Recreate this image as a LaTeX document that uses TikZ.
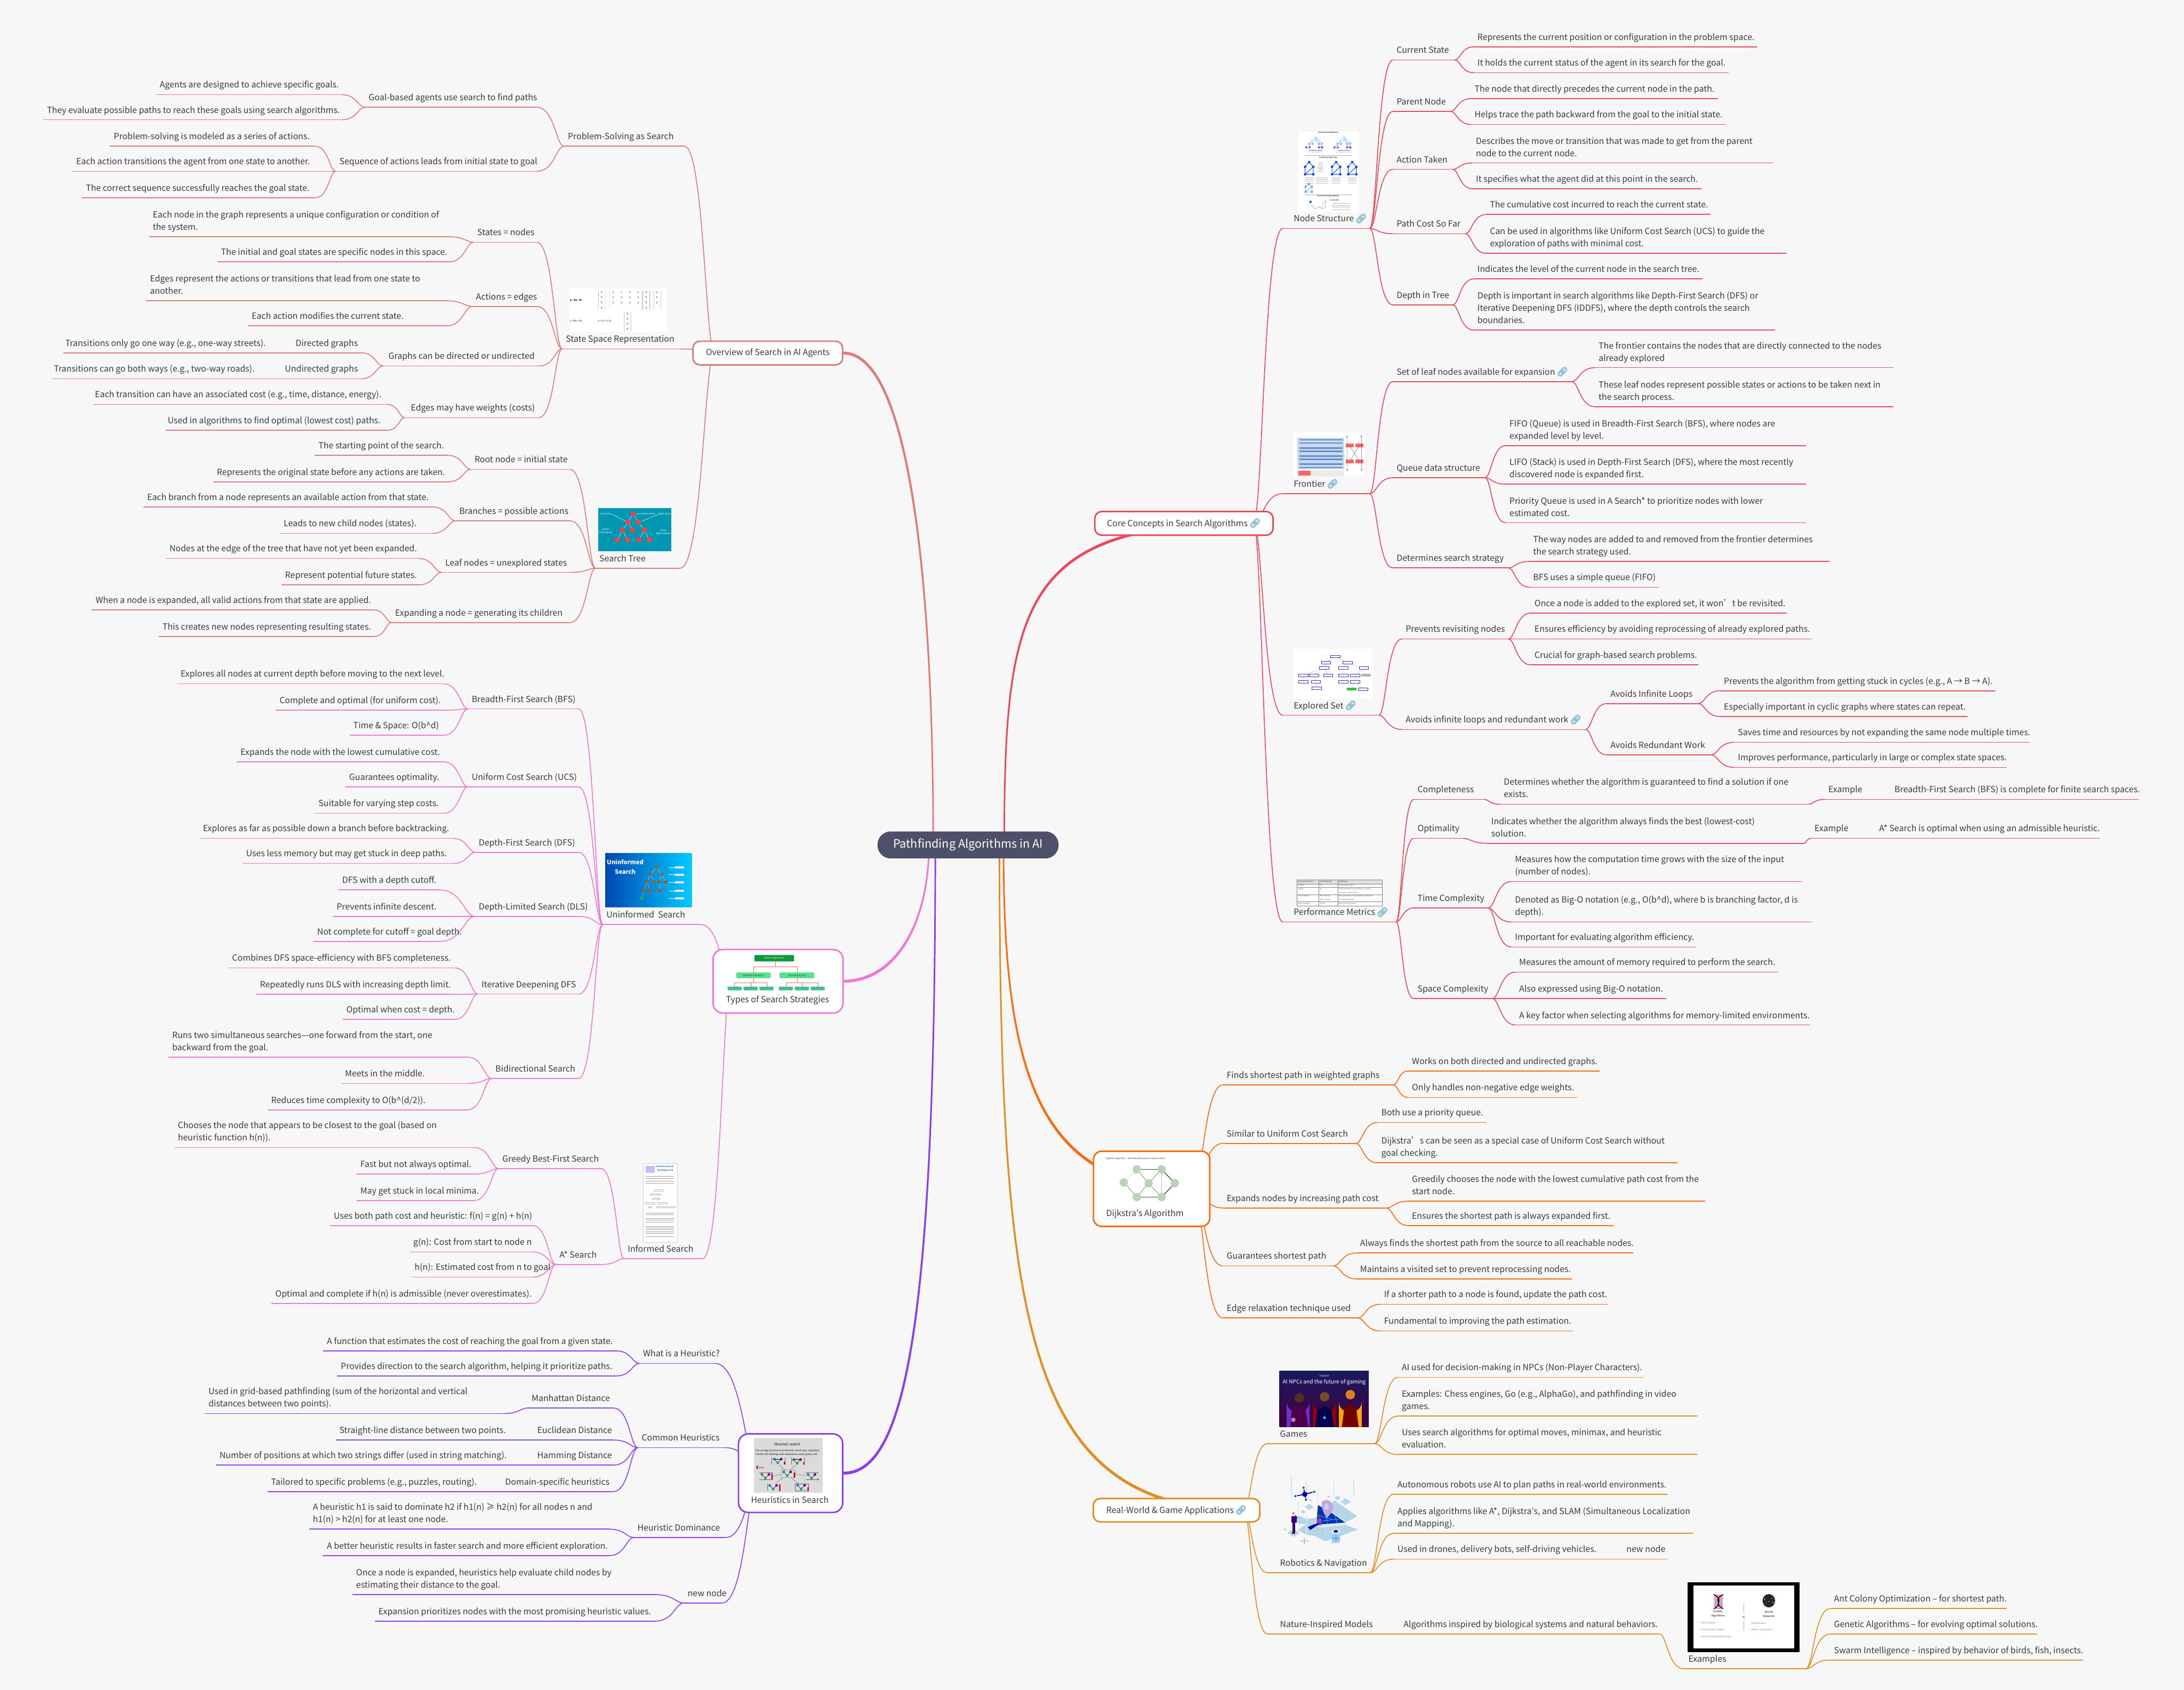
\documentclass[tikz,border=0pt]{standalone}
\usepackage{fontspec}
\setmainfont[Ligatures=TeXOff]{Noto Sans CJK SC}
\newfontfamily\emojifont[FakeBold=1.5]{Noto Emoji}
\newfontfamily\serifimg{Liberation Serif}
\usetikzlibrary{calc}
\pgfdeclarelayer{bg}\pgfsetlayers{bg,main}
\definecolor{pagebg}{HTML}{F7F7F7}
\definecolor{txt}{HTML}{3A3A3A}
\definecolor{cRed}{HTML}{E8495B}
\definecolor{cSalmon}{HTML}{E07B7B}
\definecolor{cPink}{HTML}{EE78D2}
\definecolor{cOrange}{HTML}{FF6A10}
\definecolor{cAmber}{HTML}{E28E20}
\definecolor{cPurple}{HTML}{8A3FF0}
\definecolor{cCentre}{HTML}{4C5069}
\definecolor{linkblue}{HTML}{6FAECB}
\definecolor{mapblue}{HTML}{B5D5E8}
\definecolor{stTeal}{HTML}{0097B2}
\definecolor{tyTop}{HTML}{0A9A3C}
\definecolor{tyMid}{HTML}{5CE08F}
\definecolor{tyLow}{HTML}{3FBF8F}
\definecolor{frPanel}{HTML}{C9D9EE}
\definecolor{frRow}{HTML}{5B8BD0}
\tikzset{
  leaf/.style={inner sep=0pt,text=txt,font=\fontsize{6.1}{8.8}\selectfont},
  uline/.style={line width=.62pt},
  conn/.style={line width=.62pt},
  box/.style={fill=white,line width=1.1pt,inner sep=0pt},
  lab/.style={inner sep=0pt,text=txt,font=\fontsize{6.1}{8.8}\selectfont},
  tiny/.style={inner sep=0pt,font=\fontsize{1.7}{2.1}\selectfont},
  micro/.style={inner sep=0pt,text=black!80,font=\fontsize{1.15}{1.5}\selectfont},
}
\newcommand\lk{\,{\fontsize{6.6}{8}\emojifont\textcolor{linkblue}{🔗}}}
\def\cc{black}
\newcommand\lf[6][2.5]{%
  \node[leaf,anchor=south west] (#2) at (#3,#5) {\makebox[\dimexpr #4pt-#3pt\relax][l]{\hspace{#1pt}\begin{tabular}[b]{@{}l@{}}#6\\[2pt]\end{tabular}}};
  \draw[uline,\cc] (#2.south west) -- (#2.south east);}
\newcommand\cnR[3]{\foreach \ch in {#3}{\draw[conn,#1] let \p1=(#2),\p2=(\ch.south west) in (\p1) .. controls ({\x1+0.3*(\x2-\x1)},\y1) and ({\x1+0.35*(\x2-\x1)},\y2) .. (\p2);}}
\newcommand\cnL[3]{\foreach \ch in {#3}{\draw[conn,#1] let \p1=(#2),\p2=(\ch.south east) in (\p1) .. controls ({\x1+0.3*(\x2-\x1)},\y1) and ({\x1+0.35*(\x2-\x1)},\y2) .. (\p2);}}
% tapered main branch: colour, side sign, start, c1, c2, end
\newcommand\bigb[6]{\fill[#1] ($(#6)+(0,-1.05)$) .. controls ($(#5)+(#2*1.05,-1.05)$) and ($(#4)+(#2*.55,0)$) .. ($(#3)+(#2*.55,0)$) -- ($(#3)+(-#2*.55,0)$) .. controls ($(#4)+(-#2*.55,0)$) and ($(#5)+(-#2*1.05,1.05)$) .. ($(#6)+(0,1.05)$) -- cycle;}
\begin{document}
\begin{tikzpicture}[x=1pt,y=-1pt]
\useasboundingbox (0,0) rectangle (1568,1213.4);
\begin{pgfonlayer}{bg}\fill[pagebg] (0,0) rectangle (1568,1213.4);\end{pgfonlayer}

% ---------- centre and main boxes
\node[fill=cCentre,rounded corners=9.5pt,minimum width=130pt,minimum height=19.4pt,inner sep=0pt,text=white,font=\fontsize{8.3}{11}\selectfont] (root) at (695,606.7) {Pathfinding Algorithms in AI};
\coordinate (rootC) at (721,606);\coordinate (rootD) at (720.5,606);\coordinate (rootR) at (717.5,606);
\coordinate (rootO) at (670,606);\coordinate (rootT) at (667,606);\coordinate (rootH) at (671.5,606);

\node[box,draw=cRed,rounded corners=5pt,minimum width=128pt,minimum height=17pt,text=txt,font=\fontsize{6.1}{8.8}\selectfont] (core) at (850,375.8) {Core Concepts in Search Algorithms\lk};
\node[box,draw=cOrange,rounded corners=6pt,minimum width=83.5pt,minimum height=54pt] (dij) at (826.8,853.6) {};
\node[lab,anchor=west] (dijL) at (794,871.6) {Dijkstra's Algorithm};
\node[box,draw=cAmber,rounded corners=5pt,minimum width=119.5pt,minimum height=16.8pt,text=txt,font=\fontsize{6.1}{8.8}\selectfont] (real) at (844.7,1084.4) {Real-World \& Game Applications\lk};
\node[box,draw=cSalmon,rounded corners=5pt,minimum width=107.5pt,minimum height=17pt,text=txt,font=\fontsize{6.1}{8.8}\selectfont] (over) at (551.2,253.5) {Overview of Search in AI Agents};
\node[box,draw=cPink,rounded corners=7pt,minimum width=93.3pt,minimum height=45.6pt] (types) at (558.6,704.6) {};
\node[lab,anchor=west] (typesL) at (521,718) {Types of Search Strategies};
\node[box,draw=cPurple,rounded corners=7pt,minimum width=74.8pt,minimum height=56.4pt] (heur) at (567.6,1057.8) {};
\node[lab,anchor=west] (heurL) at (539,1077) {Heuristics in Search};

\coordinate (coreO) at (900,375.5);\coordinate (dijO) at (857,853.5);\coordinate (realO) at (893,1084);
\coordinate (overO) at (513,253.5);\coordinate (typesO) at (525,704);\coordinate (heurO) at (545,1058);

% ---------- CORE CONCEPTS
\def\cc{cRed}
\lf[7.6]{ns}{921}{983}{164}{Node Structure\lk}
\lf{cur}{1000}{1044}{43}{Current State}
\lf{cura}{1058}{1261}{33.6}{Represents the current position or configuration in the problem space.}
\lf{curb}{1058}{1240.6}{52.2}{It holds the current status of the agent in its search for the goal.}
\lf{par}{1000}{1041}{80}{Parent Node}
\lf{para}{1056}{1233}{70.8}{The node that directly precedes the current node in the path.}
\lf{parb}{1056}{1238.6}{89.4}{Helps trace the path backward from the goal to the initial state.}
\lf{act}{1000}{1042.6}{121.6}{Action Taken}
\lf{acta}{1057}{1272.6}{117}{Describes the move or transition that was made to get from the parent\\node to the current node.}
\lf{actb}{1057}{1221}{135.5}{It specifies what the agent did at this point in the search.}
\lf{cost}{1000}{1051.7}{167.8}{Path Cost So Far}
\lf{costa}{1067}{1227.6}{154}{The cumulative cost incurred to reach the current state.}
\lf{costb}{1067}{1282}{181.9}{Can be used in algorithms like Uniform Cost Search (UCS) to guide the\\exploration of paths with minimal cost.}
\lf{dep}{1000}{1042.6}{218.9}{Depth in Tree}
\lf{depa}{1058}{1222}{200.3}{Indicates the level of the current node in the search tree.}
\lf{depb}{1058}{1274}{237}{Depth is important in search algorithms like Depth-First Search (DFS) or\\Iterative Deepening DFS (IDDFS), where the depth controls the search\\boundaries.}

\lf[7.6]{fr}{921}{983}{354.5}{Frontier\lk}
\lf{setl}{1000}{1128}{274}{Set of leaf nodes available for expansion\lk}
\lf{setla}{1145}{1359}{264}{The frontier contains the nodes that are directly connected to the nodes\\already explored}
\lf{setlb}{1145}{1359}{292}{These leaf nodes represent possible states or actions to be taken next in\\the search process.}
\lf{que}{1000}{1065.8}{343}{Queue data structure}
\lf{quea}{1081}{1296}{320}{FIFO (Queue) is used in Breadth-First Search (BFS), where nodes are\\expanded level by level.}
\lf{queb}{1081}{1296}{347.7}{LIFO (Stack) is used in Depth-First Search (DFS), where the most recently\\discovered node is expanded first.}
\lf{quec}{1081}{1296}{375.4}{Priority Queue is used in A Search* to prioritize nodes with lower\\estimated cost.}
\lf{det}{1000}{1082.5}{407.8}{Determines search strategy}
\lf{deta}{1098}{1313}{403.2}{The way nodes are added to and removed from the frontier determines\\the search strategy used.}
\lf{detb}{1098}{1190.6}{421.6}{BFS uses a simple queue (FIFO)}

\lf[7.6]{exs}{921}{989.6}{513.6}{Explored Set\lk}
\lf{prv}{1006.5}{1082.5}{458.8}{Prevents revisiting nodes}
\lf{prva}{1099}{1282.5}{440.2}{Once a node is added to the explored set, it won’t be revisited.}
\lf{prvb}{1099}{1300}{458.8}{Ensures efficiency by avoiding reprocessing of already explored paths.}
\lf{prvc}{1099}{1219}{477.4}{Crucial for graph-based search problems.}
\lf{avd}{1006.5}{1138}{523.8}{Avoids infinite loops and redundant work\lk}
\lf{avl}{1153.5}{1218.8}{505.2}{Avoids Infinite Loops}
\lf{avla}{1235}{1432}{496}{Prevents the algorithm from getting stuck in cycles (e.g., A → B → A).}
\lf{avlb}{1235}{1412}{514.5}{Especially important in cyclic graphs where states can repeat.}
\lf{avr}{1153.5}{1228}{542}{Avoids Redundant Work}
\lf{avra}{1245}{1457}{533}{Saves time and resources by not expanding the same node multiple times.}
\lf{avrb}{1245}{1440}{551}{Improves performance, particularly in large or complex state spaces.}

\lf[7.6]{pm}{921}{1002}{662}{Performance Metrics\lk}
\lf{cmp}{1015}{1065}{574}{Completeness}
\lf{cmpa}{1077}{1298}{577.5}{Determines whether the algorithm is guaranteed to find a solution if one\\exists.}
\lf{cmpb}{1310}{1345}{574}{Example}
\lf{cmpc}{1357.5}{1535}{574}{Breadth-First Search (BFS) is complete for finite search spaces.}
\lf{opt}{1015}{1050}{602}{Optimality}
\lf{opta}{1068}{1295}{605.5}{Indicates whether the algorithm always finds the best (lowest-cost)\\solution.}
\lf{optb}{1300}{1337}{602}{Example}
\lf{optc}{1346.5}{1507}{602}{A* Search is optimal when using an admissible heuristic.}
\lf{tim}{1015}{1068}{652}{Time Complexity}
\lf{tima}{1085}{1293}{633}{Measures how the computation time grows with the size of the input\\(number of nodes).}
\lf{timb}{1085}{1300}{662}{Denoted as Big-O notation (e.g., O(b\textasciicircum d), where b is branching factor, d is\\depth).}
\lf{timc}{1085}{1217}{680}{Important for evaluating algorithm efficiency.}
\lf{spc}{1015}{1071}{717}{Space Complexity}
\lf{spca}{1088}{1276}{698}{Measures the amount of memory required to perform the search.}
\lf{spcb}{1088}{1196}{717}{Also expressed using Big-O notation.}
\lf{spcc}{1088}{1299}{736}{A key factor when selecting algorithms for memory-limited environments.}

% ---------- DIJKSTRA
\def\cc{cOrange}
\lf{dfi}{878}{1000}{779}{Finds shortest path in weighted graphs}
\lf{dfia}{1011}{1148}{769}{Works on both directed and undirected graphs.}
\lf{dfib}{1011}{1132}{788}{Only handles non-negative edge weights.}
\lf{dsi}{878}{973}{821}{Similar to Uniform Cost Search}
\lf{dsia}{989}{1067}{806}{Both use a priority queue.}
\lf{dsib}{989}{1204}{835}{Dijkstra’s can be seen as a special case of Uniform Cost Search without\\goal checking.}
\lf{dex}{878}{995}{867.4}{Expands nodes by increasing path cost}
\lf{dexa}{1011}{1224}{862.5}{Greedily chooses the node with the lowest cumulative path cost from the\\start node.}
\lf{dexb}{1011}{1158}{880}{Ensures the shortest path is always expanded first.}
\lf{dgu}{878}{957}{909}{Guarantees shortest path}
\lf{dgua}{973.8}{1172}{899.7}{Always finds the shortest path from the source to all reachable nodes.}
\lf{dgub}{973.8}{1128}{918.3}{Maintains a visited set to prevent reprocessing nodes.}
\lf{ded}{878}{974.5}{946.4}{Edge relaxation technique used}
\lf{deda}{991}{1154}{936.5}{If a shorter path to a node is found, update the path cost.}
\lf{dedb}{991}{1129}{955.7}{Fundamental to improving the path estimation.}

% ---------- REAL WORLD
\def\cc{cAmber}
\lf[8.8]{gam}{910}{986.5}{1036.6}{Games}
\lf{gama}{1003.7}{1179.6}{989}{AI used for decision-making in NPCs (Non-Player Characters).}
\lf{gamb}{1003.7}{1218}{1016.8}{Examples: Chess engines, Go (e.g., AlphaGo), and pathfinding in video\\games.}
\lf{gamc}{1003.7}{1218}{1044.4}{Uses search algorithms for optimal moves, minimax, and heuristic\\evaluation.}
\lf[8.8]{rob}{910}{983.3}{1129.3}{Robotics \& Navigation}
\lf{roba}{1000.6}{1196.6}{1073}{Autonomous robots use AI to plan paths in real-world environments.}
\lf{robb}{1000.6}{1215}{1101}{Applies algorithms like A*, Dijkstra's, and SLAM (Simultaneous Localization\\and Mapping).}
\lf{robc}{1000.6}{1145}{1119.5}{Used in drones, delivery bots, self-driving vehicles.}
\lf{robd}{1165}{1196.6}{1119.5}{new node}
\lf[8.8]{nat}{910}{987.6}{1173.3}{Nature-Inspired Models}
\lf{nata}{1005}{1191}{1173.3}{Algorithms inspired by biological systems and natural behaviors.}
\lf[3]{nex}{1209}{1296}{1198.3}{Examples}
\lf{nexa}{1314}{1440}{1155}{Ant Colony Optimization – for shortest path.}
\lf{nexb}{1314}{1462}{1173.4}{Genetic Algorithms – for evolving optimal solutions.}
\lf{nexc}{1314}{1495}{1192}{Swarm Intelligence – inspired by behavior of birds, fish, insects.}

% ---------- OVERVIEW
\def\cc{cSalmon}
\lf{ps}{405}{491}{105}{Problem-Solving as Search}
\lf{pga}{262}{385}{77}{Goal-based agents use search to find paths}
\lf{pgaa}{112}{245}{68}{Agents are designed to achieve specific goals.}
\lf{pgab}{31}{245}{86}{They evaluate possible paths to reach these goals using search algorithms.}
\lf{psq}{241}{385}{123}{Sequence of actions leads from initial state to goal}
\lf{psqa}{79}{226}{105}{Problem-solving is modeled as a series of actions.}
\lf{psqb}{52}{226}{123}{Each action transitions the agent from one state to another.}
\lf{psqc}{59}{226}{142}{The correct sequence successfully reaches the goal state.}
\lf{sp}{403.6}{487.9}{250.5}{State Space Representation}
\lf{sta}{340}{385}{174}{States = nodes}
\lf{staa}{107}{322}{170}{Each node in the graph represents a unique configuration or condition of\\the system.}
\lf{stab}{156}{322}{188}{The initial and goal states are specific nodes in this space.}
\lf{ace}{339}{385}{220}{Actions = edges}
\lf{acea}{105}{320}{216}{Edges represent the actions or transitions that lead from one state to\\another.}
\lf{aceb}{178}{320}{234}{Each action modifies the current state.}
\lf[3.7]{gdu}{275}{386.4}{262.8}{Graphs can be directed or undirected}
\lf[12]{gdd}{200}{258.6}{253.3}{Directed graphs}
\lf[1.2]{gdda}{45.5}{200}{253.3}{Transitions only go one way (e.g., one-way streets).}
\lf[9.4]{gdn}{195}{258.6}{272}{Undirected graphs}
\lf[1]{gdna}{37.5}{195}{272}{Transitions can go both ways (e.g., two-way roads).}
\lf[4.3]{wei}{290.5}{386.4}{299.9}{Edges may have weights (costs)}
\lf[1.2]{weia}{66.8}{277.5}{290.4}{Each transition can have an associated cost (e.g., time, distance, energy).}
\lf[1.2]{weib}{119}{277.5}{309}{Used in algorithms to find optimal (lowest cost) paths.}
\lf{st}{427.6}{487.9}{408}{Search Tree}
\lf{roo}{338}{408.8}{337}{Root node = initial state}
\lf{rooa}{226}{321}{327}{The starting point of the search.}
\lf{roob}{153}{321}{346}{Represents the original state before any actions are taken.}
\lf{bra}{327}{408.8}{374}{Branches = possible actions}
\lf{braa}{103}{310}{364}{Each branch from a node represents an available action from that state.}
\lf{brab}{201}{310}{383}{Leads to new child nodes (states).}
\lf{lea}{317}{408.8}{411}{Leaf nodes = unexplored states}
\lf{leaa}{119}{300}{401}{Nodes at the edge of the tree that have not yet been expanded.}
\lf{leab}{202}{300}{420}{Represent potential future states.}
\lf{epd}{281}{408.8}{447}{Expanding a node = generating its children}
\lf{epda}{66}{268}{438}{When a node is expanded, all valid actions from that state are applied.}
\lf{epdb}{114}{268}{457}{This creates new nodes representing resulting states.}

% ---------- TYPES
\def\cc{cPink}
\lf{uni}{432.7}{502.7}{663.9}{Uninformed\ \ Search}
\lf{bfs}{336}{415}{509}{Breadth-First Search (BFS)}
\lf{bfsa}{127}{318}{491}{Explores all nodes at current depth before moving to the next level.}
\lf{bfsb}{198}{318}{510}{Complete and optimal (for uniform cost).}
\lf{bfsc}{251}{318}{528}{Time \& Space: O(b\textasciicircum d)}
\lf{ucs}{336}{415}{565}{Uniform Cost Search (UCS)}
\lf{ucsa}{170}{318}{547}{Expands the node with the lowest cumulative cost.}
\lf{ucsb}{248}{318}{565}{Guarantees optimality.}
\lf{ucsc}{226}{318}{584}{Suitable for varying step costs.}
\lf{dfs}{341}{415}{612}{Depth-First Search (DFS)}
\lf{dfsa}{143}{325}{602}{Explores as far as possible down a branch before backtracking.}
\lf{dfsb}{174}{325}{620}{Uses less memory but may get stuck in deep paths.}
\lf{dls}{341}{415}{658}{Depth-Limited Search (DLS)}
\lf{dlsa}{243}{315}{639}{DFS with a depth cutoff.}
\lf{dlsb}{239}{315}{658}{Prevents infinite descent.}
\lf{dlsc}{225}{315}{676}{Not complete for cutoff = goal depth.}
\lf{ids}{343}{415}{713.8}{Iterative Deepening DFS}
\lf{idsa}{164}{326}{695}{Combines DFS space-efficiency with BFS completeness.}
\lf{idsb}{184}{326}{714}{Repeatedly runs DLS with increasing depth limit.}
\lf{idsc}{246}{326}{732}{Optimal when cost = depth.}
\lf{bid}{353}{415}{774.4}{Bidirectional Search}
\lf{bida}{121}{335}{759}{Runs two simultaneous searches—one forward from the start, one\\backward from the goal.}
\lf{bidb}{245}{335}{778}{Meets in the middle.}
\lf{bidc}{192}{335}{797}{Reduces time complexity to O(b\textasciicircum(d/2)).}
\lf{inf}{448}{504}{903.8}{Informed Search}
\lf{gre}{358}{431}{839}{Greedy Best-First Search}
\lf{grea}{125}{340}{824}{Chooses the node that appears to be closest to the goal (based on\\heuristic function h(n)).}
\lf{greb}{256}{340}{843}{Fast but not always optimal.}
\lf{grec}{256}{340}{862}{May get stuck in local minima.}
\lf{ast}{399}{431}{908}{A* Search}
\lf{asta}{237}{382}{880}{Uses both path cost and heuristic: f(n) = g(n) + h(n)}
\lf{astb}{294}{382}{899}{g(n): Cost from start to node n}
\lf{astc}{295}{382}{917}{h(n): Estimated cost from n to goal}
\lf{astd}{195}{382}{936}{Optimal and complete if h(n) is admissible (never overestimates).}

% ---------- HEURISTICS
\def\cc{cPurple}
\lf{wha}{459}{513}{979}{What is a Heuristic?}
\lf{whaa}{232}{442}{970}{A function that estimates the cost of reaching the goal from a given state.}
\lf{whab}{242}{442}{988}{Provides direction to the search algorithm, helping it prioritize paths.}
\lf{com}{458}{520.7}{1039.5}{Common Heuristics}
\lf{man}{379}{440}{1011}{Manhattan Distance}
\lf{mana}{147}{361}{1015}{Used in grid-based pathfinding (sum of the horizontal and vertical\\distances between two points).}
\lf{euc}{383}{440}{1034}{Euclidean Distance}
\lf{euca}{241}{365}{1034}{Straight-line distance between two points.}
\lf{ham}{383}{440}{1052}{Hamming Distance}
\lf{hama}{155}{365}{1052}{Number of positions at which two strings differ (used in string matching).}
\lf{dom}{360}{440}{1071}{Domain-specific heuristics}
\lf{doma}{192}{343}{1071}{Tailored to specific problems (e.g., puzzles, routing).}
\lf{hdo}{455}{520.7}{1104}{Heuristic Dominance}
\lf{hdoa}{222}{437}{1098}{A heuristic h1 is said to dominate h2 if h1(n) ≥ h2(n) for all nodes n and\\h1(n) > h2(n) for at least one node.}
\lf{hdob}{232}{437}{1117}{A better heuristic results in faster search and more efficient exploration.}
\lf{nwn}{491}{518}{1151}{new node}
\lf{nwna}{253}{470}{1145}{Once a node is expanded, heuristics help evaluate child nodes by\\estimating their distance to the goal.}
\lf{nwnb}{269}{470}{1164}{Expansion prioritizes nodes with the most promising heuristic values.}

% ---------- IMAGES (scopes use crop coordinates)
% Node Structure
\begin{scope}[shift={(924.4,91.1)},x=.11246pt,y=-.11246pt]
\fill[white] (68,30) rectangle (452,543);
\node[micro,font=\fontsize{1.15}{1.5}\selectfont\bfseries] (nst) at (260,37) {Graph Search Algorithms};
\foreach \ox/\tl/\tb/\ti in {180/Breadth-First Search/Visits nearest neighbors first/a,360/Depth-First Search/Goes deep before backtracking/b}{
 \draw[blue!40!gray!70,line width=.15pt] (\ox,65)--(\ox-22,88)--(\ox-40,108)--(\ox-61,131) (\ox-40,108)--(\ox-40,131) (\ox-22,88)--(\ox-20,108) (\ox,65)--(\ox,88) (\ox,65)--(\ox+20,108)--(\ox+20,131) (\ox+20,108)--(\ox+40,131) (\ox,65)--(\ox+40,108);
 \foreach \ax/\ay/\cl in {0/65/blue!25!cyan!25,-22/88/blue!25!cyan!30,0/88/blue!25!cyan!30,-40/108/blue!50!cyan!50,-20/108/blue!50!cyan!50,20/108/blue!50!cyan!50,40/108/blue!50!cyan!50,-61/131/blue!60!gray!70,-40/131/blue!60!gray!70,20/131/blue!50!gray!80,40/131/blue!50!gray!90}{\fill[\cl] (\ox+\ax,\ay) circle (.85pt);}
 \node[micro,font=\fontsize{.9}{1.2}\selectfont\bfseries] (nsa\ti) at (\ox,152) {\tl};
 \node[micro,text=gray,font=\fontsize{.8}{1}\selectfont] (nsb\ti) at (\ox,162) {\tb};}
\draw[gray!60,line width=.15pt] (108,181)--(413,181) (108,433)--(413,433);
\node[micro,font=\fontsize{1.1}{1.4}\selectfont\bfseries] (nsp) at (260,195) {Pathfinding Algorithms};
\foreach \ox in {138,310,413}{
 \draw[blue!65!cyan,line width=.4pt] (\ox-26,255)--(\ox,225)--(\ox+26,255)--(\ox+26,303)--(\ox-26,303)--cycle (\ox-26,303)--(\ox+26,255);
 \foreach \ax/\ay in {0/225,-26/255,26/255,-26/303,26/303}{\fill[blue!75!cyan] (\ox+\ax,\ay) circle (.9pt);}
 \foreach \ay in {325,335,345,358}{\draw[gray!55,line width=.17pt] (\ox-28,\ay)--(\ox+28,\ay);}}
\draw[blue!60!cyan!60,line width=.3pt] (115,382)--(135,365)--(155,382)--(155,415)--(115,415)--cycle (115,415)--(155,382);
\foreach \ax/\ay in {135/365,115/382,155/382,115/415,155/415}{\fill[blue!50!cyan!70] (\ax,\ay) circle (.8pt);}
\foreach \ay in {228,238,248,258,268,278,288}{\draw[gray!55,line width=.17pt] (195,\ay)--(225,\ay);}
\foreach \ay in {325,335,345,358}{\draw[gray!55,line width=.17pt] (182,\ay)--(258,\ay);}
\node[micro,font=\fontsize{1}{1.3}\selectfont\bfseries] (nsr) at (260,442) {Random Pathfinding Algorithm};
\draw[gray!80,line width=.2pt] (135,478)--(150,490)--(165,515)--(180,525)--(200,510)--(215,520)--(225,490)--(245,470)--(240,515)--(215,525);
\fill[blue!70!cyan] (147,478) circle (.8pt);
\node[micro,font=\fontsize{.95}{1.2}\selectfont\bfseries] (nsw) at (300,468) {Random Walk};
\foreach \ay in {488,500,512,527}{\draw[gray!55,line width=.17pt] (285,\ay)--(400,\ay);}
\end{scope}
% Frontier
\begin{scope}[shift={(894.1,296.9)},x=.2581pt,y=-.1549pt]
\fill[white] (133,87) rectangle (331,293);
\fill[frPanel] (145,112) rectangle (275,258);
\foreach \ay in {122,137,160,175,197,212,235,250}{\fill[frRow] (150,\ay-3) rectangle (270,\ay+3);}
\fill[gray!15] (145,262) rectangle (275,293);
\fill[red!60] (148,266) rectangle (182,288);
\foreach \ox/\oy in {290/148,317/148,290/222,317/222}{\fill[red!60] (\ox-11,\oy-8) rectangle (\ox+11,\oy+8);}
\draw[black!70,line width=.15pt] (290,148)--(317,222) (317,148)--(290,222) (283,100)--(283,262) (323,100)--(323,262);
\fill[gray!50] (280,104) rectangle (286,112) (320,104) rectangle (326,112) (280,258) rectangle (286,266) (320,258) rectangle (326,266);
\end{scope}
% Explored Set
\begin{scope}[shift={(894.1,296.9)},x=.2581pt,y=-.1549pt]
\fill[white] (133,1091) rectangle (354,1322);
\draw[blue!40!gray!60,line width=.12pt] (250,1126)--(224,1155) (250,1126)--(284,1155) (224,1155)--(219,1180) (284,1155)--(272,1180) (284,1155)--(329,1180) (219,1180)--(161,1214) (219,1180)--(191,1214) (219,1180)--(230,1214) (272,1180)--(272,1214) (329,1180)--(305,1214) (329,1180)--(335,1214) (272,1214)--(272,1244) (305,1214)--(305,1244) (161,1214)--(161,1244) (191,1214)--(196,1244) (196,1244)--(198,1272) (305,1244)--(296,1277) (305,1244)--(327,1277);
\foreach \ax/\ay in {250/1126,224/1155,284/1155,219/1180,272/1180,329/1180,161/1214,191/1214,230/1214,272/1214,305/1214,161/1244,196/1244,198/1272,272/1244,305/1244,327/1277}{
 \draw[blue!60!gray,fill=white,line width=.15pt] (\ax-13,\ay-6) rectangle (\ax+13,\ay+6);}
\fill[gray!60] (323,1208) rectangle (349,1220);
\fill[green!70!black!80] (283,1271) rectangle (309,1283);
\end{scope}
% Performance Metrics
\begin{scope}[shift={(924.4,624.2)},x=.11246pt,y=-.11246pt]
\fill[white] (60,68) rectangle (603,232);
\fill[gray!25] (60,68) rectangle (603,95);
\draw[gray,line width=.18pt] (60,68) rectangle (603,232) (200,68)--(200,232) (320,68)--(320,232) (60,95)--(603,95) (60,113)--(603,113) (60,163)--(603,163) (60,207)--(603,207);
\tikzset{mt/.style={micro,anchor=west,font=\fontsize{1.15}{1.4}\selectfont\serifimg}}
\node[mt,font=\fontsize{1.15}{1.4}\selectfont\serifimg\bfseries] (pm1) at (66,79) {Performance Measure};
\node[mt,font=\fontsize{1.15}{1.4}\selectfont\serifimg\bfseries] (pm2) at (206,79) {Greedy Best First};
\node[mt,font=\fontsize{1.15}{1.4}\selectfont\serifimg\bfseries] (pm3) at (326,79) {Justification};
\node[mt] (pm4) at (66,103) {Complete};
\node[mt] (pm5) at (206,103) {No};
\node[mt] (pm6) at (326,103) {Can get stuck in loops.};
\node[mt] (pm7) at (66,125) {Optimal};
\node[mt] (pm8) at (206,125) {No};
\node[mt] (pm9) at (326,125) {Usually Path Selected by Algorithm is Longest as};
\node[mt] (pm10) at (326,149) {compared to optimal Solution.};
\node[mt] (pm11) at (66,172) {Time Complexity};
\node[mt] (pm12) at (206,172) {Best: O(d) and};
\node[mt] (pm13) at (206,195) {Worst: O(b\textasciicircum m)};
\node[mt] (pm14) at (326,172) {But a good heuristic can give dramatic improvement.};
\node[mt] (pm15) at (326,195) {(m = Maximum Depth)};
\node[mt] (pm16) at (66,218) {Space Complexity};
\node[mt] (pm17) at (206,218) {O(b\textasciicircum m)};
\node[mt] (pm18) at (326,218) {Keeps all nodes in memory.};
\end{scope}
% State Space
\begin{scope}[shift={(388,188.9)},x=.1721pt,y=-.1506pt]
\fill[white] (120,121) rectangle (527,327);
\node[tiny,anchor=west,text=black] (ssa) at (122,177) {\textbf{q} = \textbf{Aq} + \textbf{B}u};
\node[tiny,anchor=west,text=black] (ssb) at (122,276) {y = \textbf{C}q + Du};
\node[tiny,anchor=west,text=black] (ssc) at (238,276) {y = [1\ \ 0\ \ 0\ \ 0]};
\foreach \ay [count=\ai] in {140,164,188,214}{\node[tiny,text=black] (ssl\ai) at (255,\ay) {q};\node[tiny,text=black] (ssr\ai) at (441,\ay) {q};}
\foreach \ay/\va/\vb/\vc/\vd [count=\ai] in {140/0/1/0/0,164/0/0/1/0,188/0/0/0/1}{
 \node[tiny,text=black] (sm\ai a) at (304,\ay) {\va};\node[tiny,text=black] (sm\ai b) at (339,\ay) {\vb};\node[tiny,text=black] (sm\ai c) at (373,\ay) {\vc};\node[tiny,text=black] (sm\ai d) at (408,\ay) {\vd};\node[tiny,text=black] (sm\ai e) at (486,\ay) {0};}
\foreach \ay [count=\ai] in {243,268,291,315}{\node[tiny,text=black] (ssq\ai) at (363,\ay) {q};}
\draw[gray,line width=.15pt] (243,131)--(241,222) (270,131)--(270,222) (288,131)--(288,222) (425,131)--(425,222) (428,131)--(428,222) (456,131)--(456,222) (473,131)--(473,222) (502,131)--(502,222) (350,232)--(350,325) (377,232)--(377,325);
\end{scope}
% Search Tree
\begin{scope}[shift={(388,188.9)},x=.1721pt,y=-.1506pt]
\fill[stTeal] (241,1167) rectangle (545,1373);
\draw[white,line width=.2pt] (387,1196)--(365,1235)--(342,1273)--(321,1319) (342,1273)--(363,1319) (365,1235)--(384,1273) (387,1196)--(408,1235)--(433,1273)--(412,1319) (433,1273)--(454,1319) (295,1195)--(355,1230) (495,1197)--(420,1232) (430,1195)--(400,1195);
\foreach \ax/\ay in {387/1196,365/1235,408/1235,342/1273,384/1273,433/1273,321/1319,363/1319,412/1319,454/1319}{\fill[red!75!white] (\ax,\ay) circle (1.9pt);}
\node[tiny,text=white] (stl) at (272,1195) {Left Node};
\node[tiny,text=white] (str) at (455,1195) {Root Node};
\node[tiny,text=white] (stq) at (518,1196) {Right Node};
\node[tiny,text=white,align=center] (ste) at (272,1277) {Entire\\Left Subtree};
\node[tiny,text=white,align=center] (stf) at (513,1283) {Entire\\Right Subtree};
\end{scope}
% Uninformed
\begin{scope}[shift={(404.9,600.5)},x=.1506pt,y=-.1937pt]
\shade[left color=blue!60!cyan!70!black,right color=cyan!80!blue] (197,63) rectangle (609,263);
\node[inner sep=0pt,text=white,font=\fontsize{4.3}{5}\selectfont\bfseries] (unt) at (292,96) {Uninformed};
\node[inner sep=0pt,text=white,font=\fontsize{4.3}{5}\selectfont\bfseries] (uns) at (292,131) {Search};
\draw[white,line width=.12pt] (441,115)--(413,141)--(396,169)--(381,201)--(370,230) (441,115)--(467,141)--(453,169)--(459,201) (413,141)--(429,169) (467,141)--(484,169) (396,169)--(410,201);
\foreach \ax/\ay in {441/115,413/141,467/141,396/169,429/169,453/169,484/169,381/201,410/201,459/201}{\fill[orange!70!black] (\ax,\ay) circle (1.25pt);}
\fill[green!60!black!80] (370,230) circle (1.25pt);
\foreach \ay in {116,142,171,202,230}{\fill[blue!10] (530,\ay-4) rectangle (572,\ay+4);\draw[white,line width=.1pt] (500,\ay)--(530,\ay);}
\end{scope}
% Types
\begin{scope}[shift={(404.9,600.5)},x=.1506pt,y=-.1937pt]
\draw[red!60,line width=.15pt] (1007,464)--(1007,483) (904,505)--(904,483)--(1111,483)--(1111,505) (904,526)--(904,542) (813,557)--(813,542)--(966,542)--(966,557) (890,542)--(890,557) (1111,526)--(1111,542) (1058,557)--(1058,542)--(1211,542)--(1211,557) (1134,542)--(1134,557);
\fill[tyTop,rounded corners=.6pt] (908,440) rectangle (1097,464);
\node[tiny,text=white] (tyt) at (1003,452) {Search Algorithms};
\foreach \xa/\xb/\tn/\ti in {821/985/Uninformed Search/a,1028/1193/Informed Search/b}{
 \fill[tyMid,rounded corners=.6pt] (\xa,505) rectangle (\xb,526);
 \node[tiny,text=green!30!black] (ty\ti) at ({(\xa+\xb)/2},515.5) {\tn};}
\foreach \xa in {780,856,932,1024,1100,1176}{\fill[tyLow,rounded corners=.5pt] (\xa,557) rectangle (\xa+67,571);}
\end{scope}
% Informed
\begin{scope}[shift={(404.9,600.5)},x=.1506pt,y=-.1937pt]
\draw[blue!20,fill=white,line width=.3pt] (377,1213) rectangle (540,1505);
\node[tiny,text=cyan!60!blue!70!black,font=\fontsize{1.5}{1.9}\selectfont\bfseries] (inft) at (481,1224) {Informed Search};
\node[tiny,text=cyan!60!blue!70!black,font=\fontsize{1.5}{1.9}\selectfont\bfseries] (infs) at (483,1238) {Strategies in AI};
\fill[blue!25] (390,1222) rectangle (432,1248);
\foreach \ay in {1260,1268,1278,1286,1396,1403,1416,1423,1431,1445,1452,1458,1465,1471,1484}{\draw[gray!75,line width=.22pt] (390,\ay)--(525,\ay);}
\draw[gray!55,line width=.15pt] (430,1310) rectangle (475,1315) (410,1325) rectangle (462,1330) (420,1340) rectangle (455,1345) (388,1357) rectangle (430,1362) (447,1357) rectangle (492,1362) (440,1372) rectangle (530,1376) (400,1372) rectangle (418,1376);
\end{scope}
% Dijkstra
\begin{scope}[shift={(759.1,809.7)},x=.1506pt,y=-.1125pt]
\node[inner sep=0pt,text=black!80,font=\fontsize{1.55}{2}\selectfont] (dijt) at (373,199) {Dijkstra's algorithm – Shortest path between nodes A and G};
\draw[black!70,line width=.2pt] (317,350)--(379,443) (379,266)--(435,355) (435,355)--(379,443) (435,355)--(497,266) (435,355)--(497,443);
\draw[gray!50,line width=.15pt] (317,350)--(379,266);
\draw[black!75,line width=.6pt] (379,266)--(497,266) (379,443)--(497,443);
\draw[gray!60,line width=.4pt] (497,266)--(497,443);
\draw[black,line width=.35pt] (497,266)--(560,355)--(497,443);
\foreach \ax/\ay in {379/266,497/266,317/350,435/355,560/355,379/443,497/443}{\fill[green!25!gray!45] (\ax,\ay) circle (3pt);}
\end{scope}
% Heuristics
\begin{scope}[shift={(506.1,1005.4)},x=.1125pt,y=-.1125pt]
\fill[gray!28] (312,240) rectangle (753,590);
\node[inner sep=0pt,text=black,font=\fontsize{2.9}{3.5}\selectfont\serifimg] (het) at (525,281) {Heuristic search};
\node[inner sep=0pt,text=black,font=\fontsize{1.95}{2.4}\selectfont\serifimg] (hea) at (527,324) {Use scoring function to do heuristic search (any algorithm)};
\node[inner sep=0pt,text=black,font=\fontsize{1.95}{2.4}\selectfont\serifimg] (heb) at (520,346) {Greedy hill-climbing with randomness works pretty well};
\draw[black!70,line width=.15pt] (475,412)--(510,447) (578,415)--(545,447) (435,485)--(487,472) (575,470)--(642,483) (450,532)--(497,495) (550,495)--(597,532) (487,447) rectangle (575,493);
\foreach \ox/\oy in {443/376,566/379,503/458,364/474,658/474,413/544,592/543}{
 \draw[black,line width=.2pt] (\ox,\oy)--(\ox+22,\oy+24)--(\ox+44,\oy);
 \fill[cyan!60!blue!75!black] (\ox,\oy) circle (.95pt);
 \fill[violet!80!blue] (\ox+44,\oy) circle (.95pt);
 \fill[green!55!cyan!70!black] (\ox+22,\oy+24) circle (.95pt);}
\draw[black,line width=.3pt] (443,376)--(487,376);\draw[black,line width=.3pt] (566,379)--(610,379);
\draw[gray!80!black,line width=.15pt] (427,365)--(427,410) (512,365)--(512,410) (550,365)--(550,412) (635,365)--(635,412) (348,463)--(432,463) (348,508)--(432,508) (642,463)--(725,463) (642,508)--(725,508) (397,578)--(397,533) (577,578) rectangle (662,532);
\fill[red!80!black] (504,392) rectangle (512,410) (627,396) rectangle (635,412) (424,468) rectangle (432,508) (567,462) rectangle (575,493) (474,536) rectangle (482,580) (654,555) rectangle (662,578) (718,501) rectangle (725,510) (330,418) rectangle (338,440);
\node[inner sep=0pt,text=black,font=\fontsize{1.8}{2.2}\selectfont\serifimg] (hes) at (360,431) {score};
\end{scope}
% Games
\begin{scope}[shift={(894.1,961.5)},x=.2152pt,y=-.1506pt]
\shade[top color=blue!30!black!90,bottom color=violet!50!black] (114,152) rectangle (412,419);
\fill[blue!50!violet!80] (138,419)--(138,300) arc[start angle=180,end angle=0,x radius=38,y radius=50] --(214,419)--cycle;
\fill[red!60!black] (226,419)--(226,300) arc[start angle=180,end angle=0,x radius=38,y radius=50] --(302,419)--cycle;
\fill[orange!70!yellow] (312,419)--(312,300) arc[start angle=180,end angle=0,x radius=38,y radius=50] --(388,419)--cycle;
\fill[violet!60!black] (150,419)--(155,330)--(178,310)--(200,330)--(210,419)--cycle;
\fill[black!60!brown] (180,280) circle (3.4pt);
\fill[black!70!blue] (232,419)--(240,340)--(264,320)--(288,340)--(296,419)--cycle;
\fill[brown!60!black] (264,275) circle (3.4pt);
\fill[red!45!black] (322,419)--(330,330)--(350,310)--(370,330)--(378,419)--cycle;
\fill[orange!50!brown] (350,265) circle (3.4pt);
\fill[cyan!80] (264,375) circle (1pt);
\fill[violet!50!white] (160,385) circle (1.6pt);
\node[inner sep=0pt,text=white,font=\fontsize{3.9}{4.5}\selectfont] (gamt) at (263,206) {AI NPCs and the future of gaming};
\node[inner sep=0pt,text=white!80,font=\fontsize{1.8}{2.2}\selectfont] (gami) at (263,174) {Inworld};
\end{scope}
% Robotics
\begin{scope}[shift={(910.9,1049.3)},x=.11246pt,y=-.11246pt]
\fill[mapblue] (185,438)--(240,400)--(195,400)--(165,372)--(195,345)--(240,370)--(305,360)--(420,250)--(565,350)--(470,400)--(570,435)--(450,480)--(360,510)--(290,475)--(240,470)--cycle;
\foreach \ax/\ay/\rx/\ry in {258/292/28/20,220/323/17/12,490/258/33/22,440/234/20/14,382/226/10/8,266/248/10/8,104/435/9/8,158/457/38/26}{\fill[mapblue] (\ax-\rx,\ay)--(\ax,\ay-\ry)--(\ax+\rx,\ay)--(\ax,\ay+\ry)--cycle;}
\fill[blue!10!gray!20] (300,408)--(500,396)--(492,408)--(335,425)--cycle;
\draw[white,fill=blue!70!cyan!70!black,line width=.5pt,line join=round] (312,275)--(300,408)--(497,393)--(400,325)--cycle;
\draw[cyan!40!white,line width=.2pt] (305,340)--(400,370) (360,300)--(375,405) (420,345)--(440,398) (310,385)--(470,365);
\fill[blue!30!violet!35!white] (338,262) .. controls (355,235) and (400,240) .. (413,290) .. controls (413,320) and (385,345) .. (370,362) .. controls (350,330) and (335,300) .. (338,262) -- cycle;
\fill[white!80!blue] (368,290) ellipse (1.5pt and 2.4pt);
\foreach \ax/\ay/\bx/\by in {145/90/145/230,240/130/240/210,415/100/415/230,543/120/543/215,313/180/313/270,186/258/186/340,480/225/480/300,240/350/240/470,365/400/365/490}{\draw[cyan!25,line width=.5pt] (\ax,\ay)--(\bx,\by);}
\draw[cyan!60!blue!50,densely dotted,line width=.12pt] (500,235) ellipse (5.5pt and 2pt) (530,420) ellipse (5pt and 6pt);
\draw[blue!70!black,line width=.7pt] (170,222)--(230,210)--(290,195) (222,168)--(230,210)--(238,245);
\fill[blue!70!black] (230,210) circle (1.9pt);
\foreach \ax/\ay in {170/222,290/195,222/168,238/245}{\fill[white] (\ax,\ay) circle (1.3pt);\fill[blue!60!cyan!80!black] (\ax,\ay) circle (.8pt);}
\fill[blue!35!violet!70!black] (143,350) rectangle (178,392);
\fill[blue!35!violet!70!black] (150,392) rectangle (170,455);
\draw[violet!70!blue,line width=.6pt] (170,345)--(182,362);
\fill[orange!40!white] (158,340) circle (.85pt);
\fill[cyan!60!blue!70!black] (157,331) circle (.75pt);
\fill[black!80] (147,453) rectangle (170,461);
\fill[violet!60!blue!70] (305,365) rectangle (335,408);
\fill[blue!60!black] (330,395)--(290,402)--(250,420)--(265,438)--(305,412)--cycle;
\fill[black!40!orange] (320,350) circle (.95pt);
\fill[gray!30] (398,510) rectangle (455,525);
\fill[blue!40!cyan!45] (403,460) rectangle (453,515);
\draw[blue!60!black!60,line width=.15pt] (428,460)--(428,515) (403,490)--(453,490);
\fill[white!90!blue] (428,448) ellipse (3.2pt and 1.9pt);
\fill[blue!30!black] (428,447) ellipse (1.6pt and 1pt);
\draw[gray!70,line width=.25pt] (198,508)--(256,508) (226,490)--(226,526);
\foreach \ax/\ay in {205/508,250/508,226/494,226/522}{\fill[gray!60] (\ax,\ay) circle (.5pt);}
\end{scope}
% Examples
\begin{scope}[shift={(1180.8,1113.4)},x=.2152pt,y=-.1125pt]
\fill[black] (143,201) rectangle (517,648);
\fill[white] (162,224) rectangle (499,625);
\fill[violet!20!pink] (232,282) rectangle (260,372);
\fill[cyan!50!blue!40] (232,318) rectangle (260,330);
\draw[black,line width=.55pt] (230,280) .. controls (270,320) and (225,330) .. (262,372);
\draw[black,line width=.55pt] (262,280) .. controls (222,320) and (267,330) .. (230,372);
\fill[black!85] (414,320) ellipse (4.5pt and 4.8pt);
\foreach \ax/\ay/\cl in {400/310/yellow!70!green,425/305/cyan,415/325/red!60,405/335/green!60!black,428/330/yellow!80!green}{\fill[\cl] (\ax,\ay) circle (.5pt);}
\draw[gray!60,line width=.15pt] (330,335)--(330,400) (330,448)--(330,512);
\node[tiny,text=black,align=center,font=\fontsize{1.9}{3}\selectfont] (exg) at (245,404) {Genetic\\Algorithms};
\node[tiny,text=black,align=center,font=\fontsize{1.9}{3}\selectfont] (exn) at (414,404) {Neural\\Networks};
\node[tiny,text=black,font=\fontsize{1.7}{2.1}\selectfont] (exv) at (330,425) {VS};
\node[tiny,text=gray,anchor=west] (ex1) at (178,462) {• Optimization};
\node[tiny,text=gray,anchor=west] (ex2) at (178,507) {• Classification (GBML)};
\node[tiny,text=gray,anchor=west] (ex3) at (178,552) {• Human Comparable Design};
\node[tiny,text=gray,anchor=west] (ex4) at (345,462) {• Classification};
\node[tiny,text=gray,anchor=west] (ex5) at (345,507) {• Pattern recognition};
\end{scope}

% ---------- CONNECTORS
\begin{pgfonlayer}{bg}
\bigb{cRed}{-1}{rootC}{721,430}{735,375.5}{coreO}
\bigb{cOrange}{1}{rootD}{720,770}{745,853.5}{dijO}
\bigb{cAmber}{1}{rootR}{718,950}{735,1084}{realO}
\bigb{cSalmon}{1}{rootO}{670,400}{650,253.5}{over.east}
\bigb{cPink}{-1}{rootT}{667,660}{645,704}{types.east}
\bigb{cPurple}{-1}{rootH}{671.5,950}{650,1058}{heur.east}

\cnR{cRed}{coreO}{ns,fr,exs,pm}
\cnR{cRed}{ns.south east}{cur,par,act,cost,dep}
\cnR{cRed}{cur.south east}{cura,curb}
\cnR{cRed}{par.south east}{para,parb}
\cnR{cRed}{act.south east}{acta,actb}
\cnR{cRed}{cost.south east}{costa,costb}
\cnR{cRed}{dep.south east}{depa,depb}
\cnR{cRed}{fr.south east}{setl,que,det}
\cnR{cRed}{setl.south east}{setla,setlb}
\cnR{cRed}{que.south east}{quea,queb,quec}
\cnR{cRed}{det.south east}{deta,detb}
\cnR{cRed}{exs.south east}{prv,avd}
\cnR{cRed}{prv.south east}{prva,prvb,prvc}
\cnR{cRed}{avd.south east}{avl,avr}
\cnR{cRed}{avl.south east}{avla,avlb}
\cnR{cRed}{avr.south east}{avra,avrb}
\cnR{cRed}{pm.south east}{cmp,opt,tim,spc}
\cnR{cRed}{cmp.south east}{cmpa}
\cnR{cRed}{cmpa.south east}{cmpb}
\cnR{cRed}{cmpb.south east}{cmpc}
\cnR{cRed}{opt.south east}{opta}
\cnR{cRed}{opta.south east}{optb}
\cnR{cRed}{optb.south east}{optc}
\cnR{cRed}{tim.south east}{tima,timb,timc}
\cnR{cRed}{spc.south east}{spca,spcb,spcc}

\cnR{cOrange}{dijO}{dfi,dsi,dex,dgu,ded}
\cnR{cOrange}{dfi.south east}{dfia,dfib}
\cnR{cOrange}{dsi.south east}{dsia,dsib}
\cnR{cOrange}{dex.south east}{dexa,dexb}
\cnR{cOrange}{dgu.south east}{dgua,dgub}
\cnR{cOrange}{ded.south east}{deda,dedb}

\cnR{cAmber}{realO}{gam,rob,nat}
\cnR{cAmber}{gam.south east}{gama,gamb,gamc}
\cnR{cAmber}{rob.south east}{roba,robb,robc}
\cnR{cAmber}{robc.south east}{robd}
\cnR{cAmber}{nat.south east}{nata}
\cnR{cAmber}{nata.south east}{nex}
\cnR{cAmber}{nex.south east}{nexa,nexb,nexc}

\cnL{cSalmon}{overO}{ps,sp,st}
\cnL{cSalmon}{ps.south west}{pga,psq}
\cnL{cSalmon}{pga.south west}{pgaa,pgab}
\cnL{cSalmon}{psq.south west}{psqa,psqb,psqc}
\cnL{cSalmon}{sp.south west}{sta,ace,gdu,wei}
\cnL{cSalmon}{sta.south west}{staa,stab}
\cnL{cSalmon}{ace.south west}{acea,aceb}
\cnL{cSalmon}{gdu.south west}{gdd,gdn}
\cnL{cSalmon}{gdd.south west}{gdda}
\cnL{cSalmon}{gdn.south west}{gdna}
\cnL{cSalmon}{wei.south west}{weia,weib}
\cnL{cSalmon}{st.south west}{roo,bra,lea,epd}
\cnL{cSalmon}{roo.south west}{rooa,roob}
\cnL{cSalmon}{bra.south west}{braa,brab}
\cnL{cSalmon}{lea.south west}{leaa,leab}
\cnL{cSalmon}{epd.south west}{epda,epdb}

\cnL{cPink}{typesO}{uni,inf}
\cnL{cPink}{uni.south west}{bfs,ucs,dfs,dls,ids,bid}
\cnL{cPink}{bfs.south west}{bfsa,bfsb,bfsc}
\cnL{cPink}{ucs.south west}{ucsa,ucsb,ucsc}
\cnL{cPink}{dfs.south west}{dfsa,dfsb}
\cnL{cPink}{dls.south west}{dlsa,dlsb,dlsc}
\cnL{cPink}{ids.south west}{idsa,idsb,idsc}
\cnL{cPink}{bid.south west}{bida,bidb,bidc}
\cnL{cPink}{inf.south west}{gre,ast}
\cnL{cPink}{gre.south west}{grea,greb,grec}
\cnL{cPink}{ast.south west}{asta,astb,astc,astd}

\cnL{cPurple}{heurO}{wha,com,hdo,nwn}
\cnL{cPurple}{wha.south west}{whaa,whab}
\cnL{cPurple}{com.south west}{man,euc,ham,dom}
\cnL{cPurple}{man.south west}{mana}
\cnL{cPurple}{euc.south west}{euca}
\cnL{cPurple}{ham.south west}{hama}
\cnL{cPurple}{dom.south west}{doma}
\cnL{cPurple}{hdo.south west}{hdoa,hdob}
\cnL{cPurple}{nwn.south west}{nwna,nwnb}
\end{pgfonlayer}
\end{tikzpicture}
\end{document}
